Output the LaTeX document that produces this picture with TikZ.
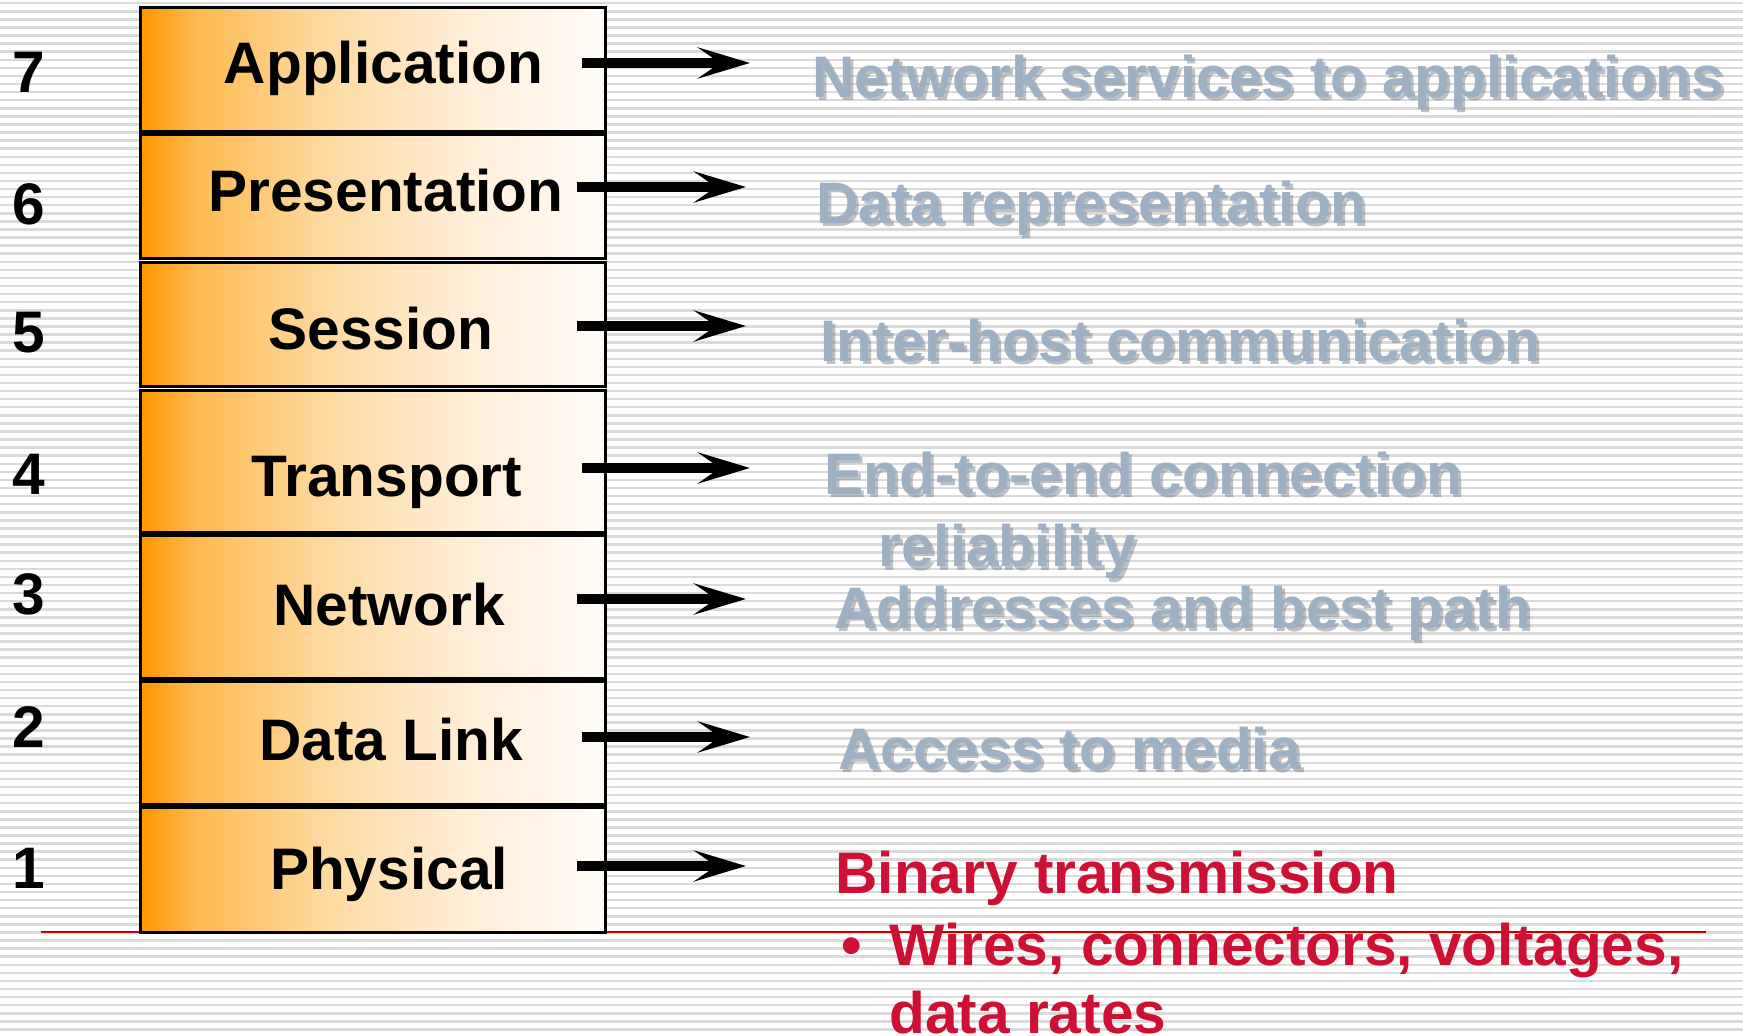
\documentclass[tikz,border=0pt]{standalone}
\usepackage{fontspec}
\setmainfont{Liberation Sans}
\usetikzlibrary{arrows.meta}
\definecolor{orangeA}{RGB}{255,150,0}
\definecolor{orangeB}{RGB}{253,186,80}
\definecolor{orangeC}{RGB}{254,218,160}
\definecolor{orangeD}{RGB}{255,238,215}
\definecolor{orangeE}{RGB}{255,252,248}
\definecolor{stripecol}{RGB}{218,218,218}
\definecolor{greyblue}{RGB}{158,176,196}
\definecolor{shadowcol}{RGB}{110,118,128}
\definecolor{crimson}{RGB}{206,16,52}
\definecolor{lineRed}{RGB}{204,0,0}
\pgfdeclarehorizontalshading{layershade}{100bp}{color(0bp)=(orangeA); color(25bp)=(orangeA); color(31bp)=(orangeB); color(45bp)=(orangeC); color(60bp)=(orangeD); color(75bp)=(orangeE); color(100bp)=(orangeE)}
\tikzset{
  layerbox/.style={draw=black, line width=1.5pt, shading=layershade, minimum width=232.5pt, inner sep=0pt},
  lbl/.style={font=\fontsize{29.3}{35}\selectfont\bfseries, inner sep=0pt, anchor=base},
  gtxt/.style={font=\fontsize{29.3}{35}\selectfont\bfseries, inner sep=0pt, anchor=base west, text=greyblue},
  gshadow/.style={font=\fontsize{29.3}{35}\selectfont\bfseries, inner sep=0pt, anchor=base west, text=shadowcol, opacity=0.45},
  rtxt/.style={font=\fontsize{29.3}{35}\selectfont\bfseries, inner sep=0pt, anchor=base west, text=crimson},
  arr/.style={line width=5pt, -{Stealth[length=26pt, width=15.5pt, inset=11pt]}}
}
\begin{document}
\begin{tikzpicture}[x=0.5pt,y=-0.5pt]
\useasboundingbox (0,0) rectangle (1743,1036);
\fill[white] (0,0) rectangle (1743,1036);
\foreach \i in {0,...,127} \fill[stripecol] (0,{2+\i*8.08}) rectangle (1743,{4.5+\i*8.08});
% red rule
\coordinate (ruleL) at (41,932);
\coordinate (ruleR) at (1706,932);
\draw[lineRed, line width=1pt] (ruleL) -- (ruleR);
% layer boxes
\node[layerbox, minimum height=62pt]   (b7) at (372.5,70) {};
\node[layerbox, minimum height=62pt]   (b6) at (372.5,197) {};
\node[layerbox, minimum height=62pt]   (b5) at (372.5,325) {};
\node[layerbox, minimum height=71pt]   (b4) at (372.5,462) {};
\node[layerbox, minimum height=71pt]   (b3) at (372.5,607) {};
\node[layerbox, minimum height=61.5pt] (b2) at (372.5,742.5) {};
\node[layerbox, minimum height=62.5pt] (b1) at (372.5,869.5) {};
% layer names
\node[lbl] (t7) at (383.5,84) {Application};
\node[lbl] (t6) at (386,212) {Presentation};
\node[lbl] (t5) at (381,350) {Session};
\node[lbl] (t4) at (387,497) {Transport};
\node[lbl] (t3) at (389,625) {Network};
\node[lbl] (t2) at (391,760) {Data Link};
\node[lbl] (t1) at (389,889) {Physical};
% numbers
\node[lbl] (n7) at (29,93) {7};
\node[lbl] (n6) at (29,225) {6};
\node[lbl] (n5) at (29,353) {5};
\node[lbl] (n4) at (29,495) {4};
\node[lbl] (n3) at (29,614) {3};
\node[lbl] (n2) at (29,747) {2};
\node[lbl] (n1) at (29,888) {1};
% arrows
\coordinate (a7s) at (582,63);  \coordinate (a7e) at (750,63);
\coordinate (a6s) at (577,187); \coordinate (a6e) at (746,187);
\coordinate (a5s) at (577,326); \coordinate (a5e) at (746,326);
\coordinate (a4s) at (582,468); \coordinate (a4e) at (750,468);
\coordinate (a3s) at (577,599); \coordinate (a3e) at (746,599);
\coordinate (a2s) at (582,737); \coordinate (a2e) at (750,737);
\coordinate (a1s) at (577,866); \coordinate (a1e) at (746,866);
\foreach \k in {7,6,5,4,3,2,1} \draw[arr] (a\k s) -- (a\k e);
% grey descriptions with shadow
\foreach \nm/\px/\py/\txt in {g7/812/98/{Network services to applications},
  g6/816/224/{Data representation},
  g5/820/362/{Inter-host communication},
  g4a/824/495/{End-to-end connection},
  g4b/878/567/{reliability},
  g3/834/628/{Addresses and best path},
  g2/838/769/{Access to media}}{
  \node[gshadow] (\nm s) at (\px+3,\py+3) {\txt};
  \node[gtxt] (\nm) at (\px,\py) {\txt};
}
% red description
\node[rtxt] (r1) at (835,893) {Binary transmission};
\node[rtxt] (r2b) at (841,965) {\textbullet};
\node[rtxt] (r2) at (889,965) {Wires, connectors, voltages,};
\node[rtxt] (r3) at (889,1033) {data rates};
\end{tikzpicture}
\end{document}
